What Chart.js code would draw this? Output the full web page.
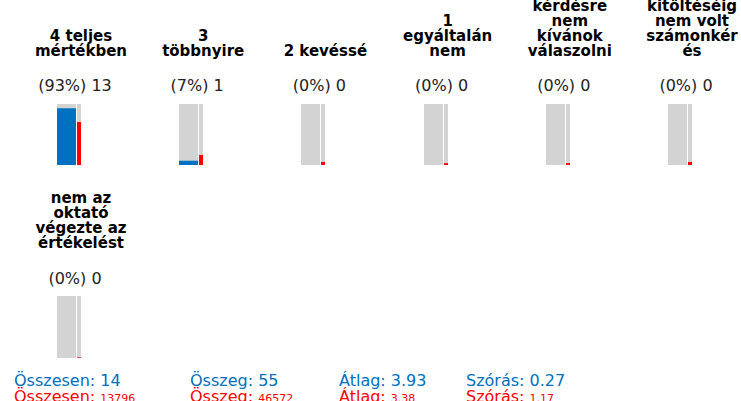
<!DOCTYPE html>
<html>
<head>
<meta charset="utf-8">
<script src="https://cdn.jsdelivr.net/npm/chart.js@4"></script>
<style>
  body { margin: 0; background: #fff; font-family: "DejaVu Sans", Verdana, sans-serif; }
  #page { position: relative; width: 741px; height: 401px; overflow: hidden; }
  .title { position: absolute; width: 122px; text-align: center; font-weight: bold; font-size: 15px; line-height: 15px; color: #000; }
  .count { position: absolute; width: 122px; text-align: center; font-size: 16px; line-height: 18px; color: #222; }
  .mini { position: absolute; }
  .stat { position: absolute; font-size: 16px; line-height: 16px; white-space: nowrap; }
  .blue { color: #0070c0; }
  .red { color: #ff0000; }
  .red small { font-size: 11px; }
</style>
</head>
<body>
<div id="page"></div>
<script>
const titles = [
  ["4 teljes", "mértékben"],
  ["3", "többnyire"],
  ["2 kevéssé"],
  ["1", "egyáltalán", "nem"],
  ["kérdésre", "nem", "kívánok", "válaszolni"],
  ["kitöltéséig", "nem volt", "számonkér", "és"],
  ["nem az", "oktató", "végezte az", "értékelést"]
];
const counts = [13, 1, 0, 0, 0, 0, 0];
const percents = [93, 7, 0, 0, 0, 0, 0];
const comparePercents = [70.5, 16.4, 5, 3, 3, 5, 1];

const statLabels = ["Összesen", "Összeg", "Átlag", "Szórás"];
const statValues = ["14", "55", "3.93", "0.27"];
const statCompare = ["13796", "46572", "3.38", "1.17"];

const BLUE = "#0070c0";
const RED = "#ff0000";
const GRAY = "#d3d3d3";

const page = document.getElementById("page");

// first row holds 6 cells, the 7th wraps under the first one
function cellBox(i) {
  if (i < 6) {
    return { cx: 81 + i * 122.2, titleBottom: 59, countTop: 77, barTop: 104, barH: 61 };
  }
  return { cx: 81, titleBottom: 251, countTop: 270, barTop: 296, barH: 62 };
}

const WIDE = 19, NARROW = 4;

titles.forEach((lines, i) => {
  const b = cellBox(i);

  const t = document.createElement("div");
  t.className = "title";
  t.style.left = (b.cx - 61) + "px";
  t.style.bottom = (401 - b.titleBottom) + "px";
  t.innerHTML = lines.join("<br>");
  page.appendChild(t);

  const c = document.createElement("div");
  c.className = "count";
  c.style.left = (b.cx - 6 - 61) + "px";
  c.style.top = b.countTop + "px";
  c.textContent = "(" + percents[i] + "%) " + counts[i];
  page.appendChild(c);

  const w = WIDE + 1 + NARROW;
  const cv = document.createElement("canvas");
  cv.className = "mini";
  cv.width = w;
  cv.height = b.barH;
  cv.style.left = Math.round(b.cx - 24) + "px";
  cv.style.top = b.barTop + "px";
  cv.style.width = w + "px";
  cv.style.height = b.barH + "px";
  page.appendChild(cv);

  const xw = WIDE / 2;
  const xn = WIDE + 1 + NARROW / 2;
  const bar = (x, y, color, thick, order) => ({
    data: [{ x: x, y: y }],
    backgroundColor: color,
    barThickness: thick,
    stack: "s",
    borderWidth: 0,
    inflateAmount: 0,
    order: order
  });

  new Chart(cv, {
    type: "bar",
    data: {
      datasets: [
        bar(xw, percents[i], BLUE, WIDE, 1),
        bar(xn, comparePercents[i], RED, NARROW, 1),
        bar(xw, 100, GRAY, WIDE, 2),
        bar(xn, 100, GRAY, NARROW, 2)
      ]
    },
    options: {
      responsive: false,
      animation: false,
      events: [],
      layout: { padding: 0 },
      plugins: { legend: { display: false }, tooltip: { enabled: false } },
      scales: {
        x: { type: "linear", min: 0, max: w, offset: false, stacked: true, display: false },
        y: { min: 0, max: 100, stacked: false, display: false }
      }
    }
  });
});

const statX = [14, 190, 339, 466];
statLabels.forEach((lab, i) => {
  const s1 = document.createElement("div");
  s1.className = "stat blue";
  s1.style.left = statX[i] + "px";
  s1.style.top = "373px";
  s1.textContent = lab + ": " + statValues[i];
  page.appendChild(s1);

  const s2 = document.createElement("div");
  s2.className = "stat red";
  s2.style.left = statX[i] + "px";
  s2.style.top = "389px";
  s2.innerHTML = lab + ": <small>" + statCompare[i] + "</small>";
  page.appendChild(s2);
});
</script>
</body>
</html>
